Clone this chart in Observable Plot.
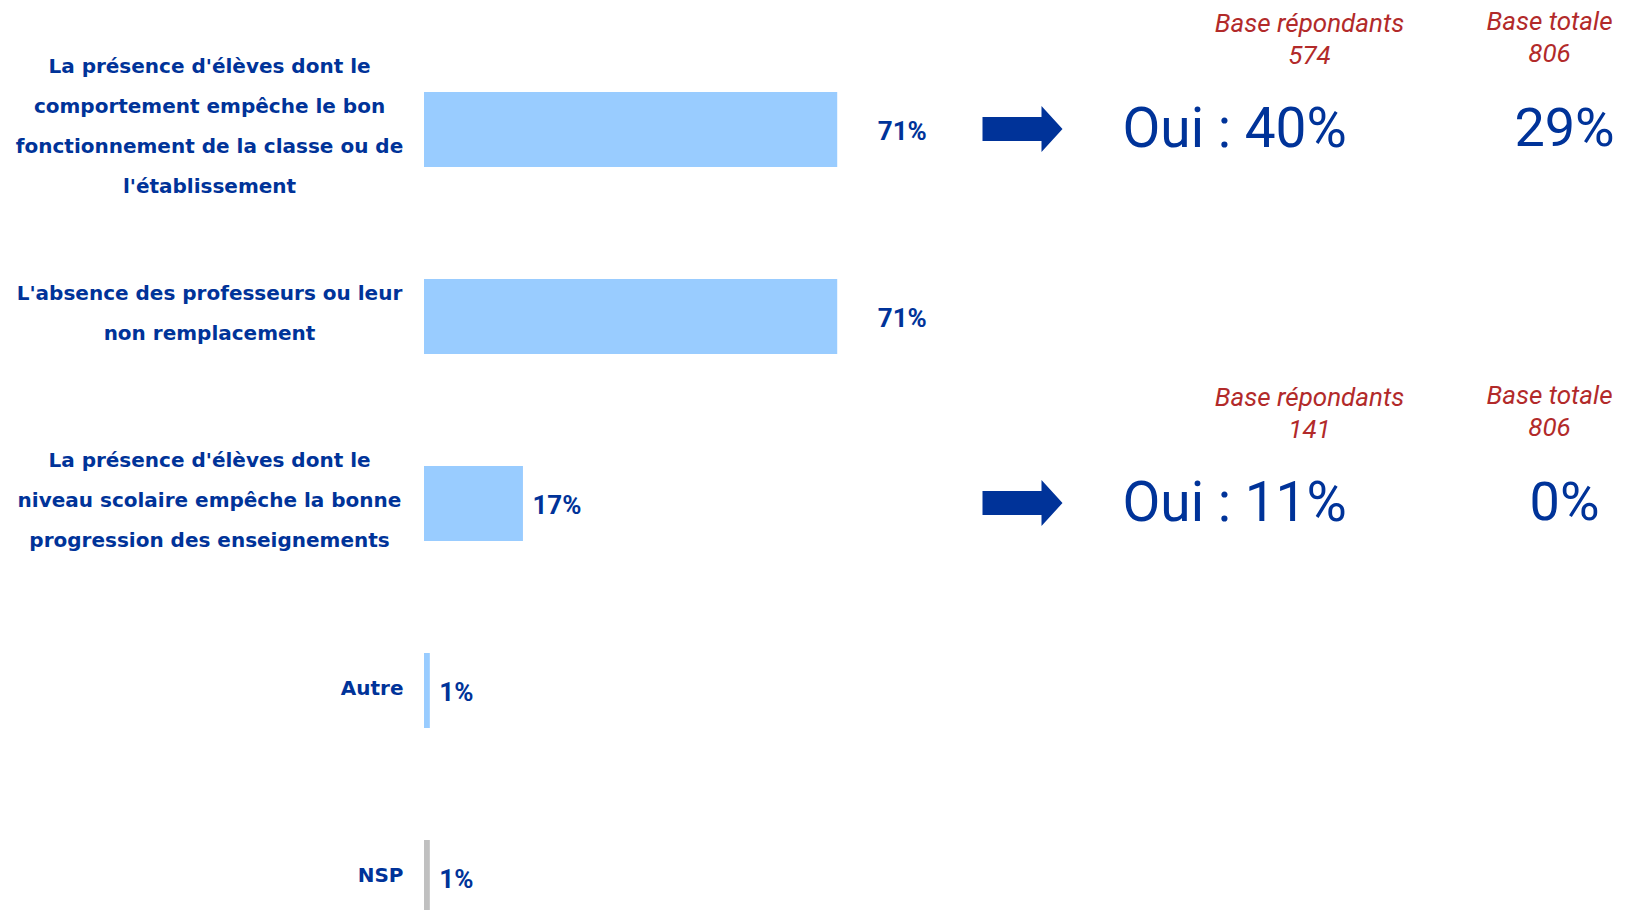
<!DOCTYPE html>
<html><head><meta charset="utf-8">
<script src="https://cdn.jsdelivr.net/npm/d3@7"></script>
<script src="https://cdn.jsdelivr.net/npm/@observablehq/plot@0.6"></script>
<style>body{margin:0;background:#fff;} #chart svg{display:block;}</style>
</head><body><div id="chart"></div>
<script>
const categories = [
  "La présence d'élèves dont le\ncomportement empêche le bon\nfonctionnement de la classe ou de\nl'établissement",
  "L'absence des professeurs ou leur\nnon remplacement",
  "La présence d'élèves dont le\nniveau scolaire empêche la bonne\nprogression des enseignements",
  "Autre",
  "NSP"
];
const values = [71, 71, 17, 1, 1];

const ouiCategories = [categories[0], categories[2]];
const ouiValues = [40, 11];
const baseRepondants = [574, 141];
const baseTotale = [806, 806];
const totalValues = [29, 0];

const BLUE = "#003399", LIGHT = "#99CCFF", GRAY = "#C0C0C0", RED = "#B22A2A";
const LABEL_FONT = "'DejaVu Sans', Verdana, sans-serif";

const rows = categories.map((c, i) => ({cat: c, value: values[i]}));
const annots = ouiCategories.map((c, i) => ({
  cat: c, oui: ouiValues[i], rep: baseRepondants[i], tot: baseTotale[i], total: totalValues[i]
}));

const arrowSymbol = {
  draw(ctx) {
    ctx.moveTo(-40, -12); ctx.lineTo(19, -12); ctx.lineTo(19, -23);
    ctx.lineTo(40, 0); ctx.lineTo(19, 23); ctx.lineTo(19, 12);
    ctx.lineTo(-40, 12); ctx.closePath();
  }
};

const textBase = {y: "cat", frameAnchor: "left", fill: BLUE};

const chart = Plot.plot({
  width: 1626, height: 910, margin: 0,
  style: {fontFamily: "Roboto, 'Liberation Sans', sans-serif", background: "white", overflow: "hidden"},
  x: {domain: [0, 100], range: [424, 1006], axis: null},
  y: {domain: categories, range: [36, 971], paddingInner: 0.6, paddingOuter: 0.3, axis: null},
  color: {type: "identity"},
  marks: [
    Plot.barX(rows, {x: "value", y: "cat", fill: d => d.cat === "NSP" ? GRAY : LIGHT}),
    // category labels
    Plot.text(rows.filter(d => d.cat.includes("\n")), {...textBase, text: "cat", dx: 209, dy: -10,
      textAnchor: "middle", lineHeight: 2.0, fontSize: 20, fontWeight: "bold", fontFamily: LABEL_FONT}),
    Plot.text(rows.filter(d => !d.cat.includes("\n")), {...textBase, text: "cat", dx: 403, dy: -2,
      textAnchor: "end", fontSize: 20, fontWeight: "bold", fontFamily: LABEL_FONT}),
    // value labels
    Plot.text(rows.filter(d => d.value > 50), {x: "value", y: "cat", text: d => d.value + "%", dx: 40, dy: 2,
      textAnchor: "start", fontSize: 26, fontWeight: "bold", fill: BLUE}),
    Plot.text(rows.filter(d => d.value <= 50), {x: "value", y: "cat", text: d => d.value + "%", dx: 9, dy: 2,
      textAnchor: "start", fontSize: 26, fontWeight: "bold", fill: BLUE}),
    // arrows
    Plot.dot(annots, {y: "cat", frameAnchor: "left", dx: 1022, dy: -1, symbol: arrowSymbol, fill: BLUE, stroke: null, r: 10}),
    // Oui : xx%
    Plot.text(annots, {...textBase, text: d => `Oui : ${d.oui}%`, dx: 1122, dy: -1,
      textAnchor: "start", fontSize: 55}),
    Plot.text(annots, {...textBase, text: d => `${d.total}%`, dx: 1564, dy: -1,
      textAnchor: "middle", fontSize: 54}),
    // bases
    Plot.text(annots, {y: "cat", frameAnchor: "left", text: d => `Base répondants\n${d.rep}`, dx: 1309, dy: -92,
      textAnchor: "middle", fontSize: 26, fontStyle: "italic", lineHeight: 1.2, fill: RED}),
    Plot.text(annots, {y: "cat", frameAnchor: "left", text: d => `Base totale\n${d.tot}`, dx: 1549, dy: -94,
      textAnchor: "middle", fontSize: 26, fontStyle: "italic", lineHeight: 1.2, fill: RED})
  ]
});
document.getElementById("chart").append(chart);
</script>
</body></html>
